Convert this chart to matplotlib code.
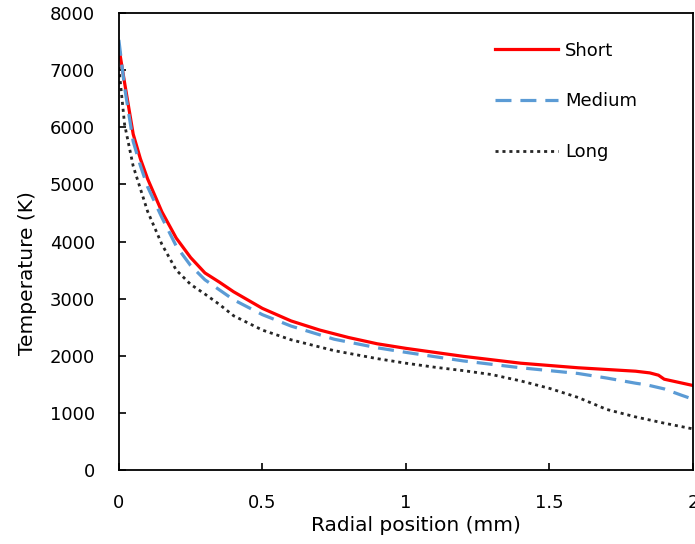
import matplotlib
matplotlib.use("Agg")
import matplotlib.pyplot as plt

plt.rcParams['font.family'] = ['DejaVu Sans']

# radial position (mm) and temperature (K)
x_short = [0, 0.02, 0.05, 0.075, 0.1, 0.15, 0.2, 0.25, 0.3, 0.35, 0.4, 0.5, 0.6, 0.7, 0.8, 0.9,
           1.0, 1.2, 1.4, 1.6, 1.8, 1.85, 1.88, 1.9, 2.0]
t_short = [7400, 6780, 5880, 5450, 5100, 4520, 4060, 3720, 3450, 3290, 3120, 2830, 2610, 2450, 2320, 2210,
           2130, 1990, 1870, 1790, 1730, 1700, 1660, 1590, 1480]

x_medium = [0, 0.02, 0.05, 0.075, 0.1, 0.15, 0.2, 0.25, 0.3, 0.4, 0.5, 0.6, 0.75, 0.9,
            1.0, 1.2, 1.4, 1.6, 1.7, 1.8, 1.84, 1.9, 1.96, 2.0]
t_medium = [7530, 6700, 5750, 5330, 4960, 4420, 3920, 3580, 3330, 2980, 2720, 2520, 2290, 2140,
            2060, 1910, 1790, 1690, 1610, 1520, 1490, 1420, 1310, 1240]

x_long = [0, 0.02, 0.05, 0.1, 0.15, 0.2, 0.25, 0.3, 0.35, 0.4, 0.5, 0.6, 0.75, 0.9,
          1.0, 1.1, 1.2, 1.3, 1.4, 1.5, 1.6, 1.7, 1.8, 1.9, 2.0]
t_long = [7050, 6050, 5320, 4530, 3950, 3500, 3250, 3080, 2900, 2700, 2450, 2280, 2090, 1950,
          1870, 1800, 1740, 1670, 1560, 1430, 1270, 1060, 930, 820, 720]

fig = plt.figure(figsize=(6.95, 5.44), dpi=100)
ax = fig.add_axes([0.171, 0.136, 0.826, 0.840])

ax.plot(x_short, t_short, color='#ff0000', lw=2.3, label='Short')
ax.plot(x_medium, t_medium, color='#5b9bd5', lw=2.3, dashes=(5.0, 2.8), label='Medium')
ax.plot(x_long, t_long, color='#262626', lw=2.0, dashes=(1.1, 1.4), label='Long')

ax.set_xlim(0, 2)
ax.set_ylim(0, 8000)
ax.set_xticks([0, 0.5, 1, 1.5, 2])
ax.set_xticklabels(['0', '0.5', '1', '1.5', '2'])
ax.set_yticks(range(0, 8001, 1000))
ax.tick_params(direction='in', length=5, width=1.2, labelsize=13, pad=17)
for s in ax.spines.values():
    s.set_linewidth(1.3)

ax.set_xlabel('Radial position (mm)', fontsize=14.5)
ax.set_ylabel('Temperature (K)', fontsize=14.5)
ax.xaxis.set_label_coords(0.517, -0.10)
ax.yaxis.set_label_coords(-0.142, 0.431)

ax.legend(loc='upper left', frameon=False, fontsize=13, handlelength=3.5,
          labelspacing=1.82, handletextpad=0.4, borderpad=0, borderaxespad=0,
          bbox_to_anchor=(0.655, 0.9376))

fig.savefig('out.png', dpi=100)
